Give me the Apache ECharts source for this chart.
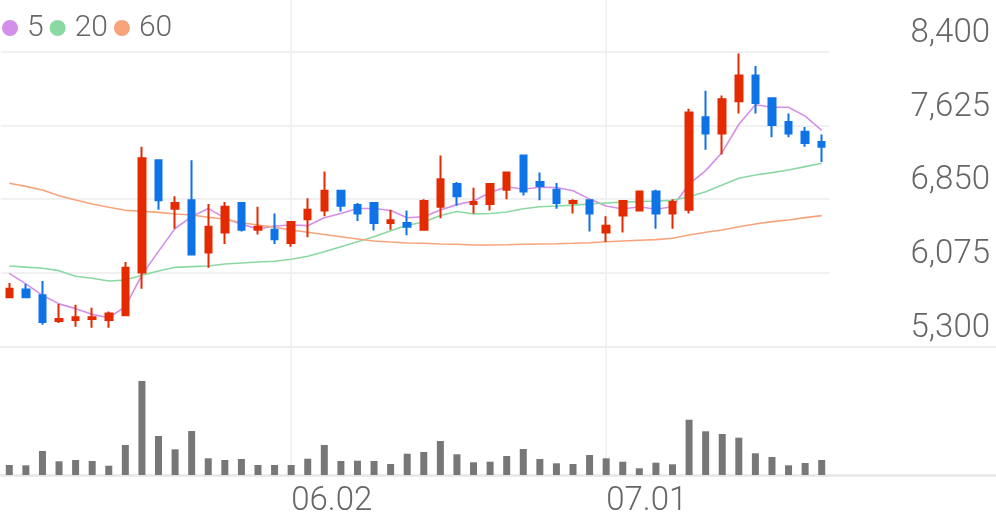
<!DOCTYPE html>
<html><head><meta charset="utf-8">
<script src="https://cdn.jsdelivr.net/npm/echarts@6/dist/echarts.min.js"></script>
<style>html,body{margin:0;padding:0;background:#fff}#c{width:996px;height:519px}</style>
</head><body><div id="c"></div>
<script>
const dates = ['05.08','05.09','05.12','05.13','05.14','05.15','05.16','05.19','05.20','05.21','05.22','05.23','05.26','05.27','05.28','05.29','05.30',
  '06.02','06.04','06.05','06.09','06.10','06.11','06.12','06.13','06.16','06.17','06.18','06.19','06.20','06.23','06.24','06.25','06.26','06.27','06.30',
  '07.01','07.02','07.03','07.04','07.07','07.08','07.09','07.10','07.11','07.14','07.15','07.16','07.17','07.18'];
const opens  = [5820,5900,5840,5570,5580,5590,5580,5630,6080,7260,6750,6840,6290,6500,6810,6530,6530,6390,6640,6730,6940,6790,6810,6600,6600,6530,6770,7010,6800,6800,6950,7310,7030,6950,6810,6840,6500,6680,6730,6930,6700,6740,7710,7540,7880,8150,7910,7660,7560,7450];
const closes = [5910,5820,5560,5590,5610,5610,5650,6130,7280,6840,6810,6270,6560,6770,6530,6560,6430,6610,6740,6940,6780,6700,6600,6630,6560,6830,7060,6880,6820,7010,7130,6930,6990,6810,6830,6700,6570,6830,6930,6700,6820,7760,7540,7900,8150,7860,7630,7540,7440,7400];
const lows   = [5820,5810,5530,5550,5510,5500,5500,5620,5910,6740,6540,6260,6130,6380,6510,6480,6380,6350,6450,6670,6720,6620,6520,6530,6470,6520,6650,6780,6700,6730,6850,6890,6840,6750,6700,6510,6400,6500,6720,6540,6540,6700,7370,7320,7750,7750,7500,7500,7400,7240];
const highs  = [5970,5960,5990,5750,5740,5710,5670,6190,7400,7260,6880,7260,6800,6820,6820,6770,6700,6620,6860,7140,6940,6810,6810,6740,6730,6850,7310,7030,6970,7020,7130,7310,7130,7020,6850,6840,6670,6840,6940,6950,6850,7800,7990,7940,8380,8250,7910,7750,7610,7530];
const ma5  = [6070,5960,5840,5750,5700,5640,5605,5720,6056,6302,6542,6667,6753,6651,6588,6537,6569,6579,6572,6655,6699,6753,6752,6731,6655,6666,6737,6793,6831,6920,6980,6954,6976,6973,6938,6851,6779,6747,6771,6744,6770,7008,7150,7344,7635,7842,7816,7816,7723,7573];
const ma20 = [6148,6136,6124,6099,6040,6020,5990,6000,6050,6096,6134,6141,6148,6169,6180,6190,6198,6219,6250,6298,6351,6403,6456,6519,6576,6610,6679,6721,6695,6700,6716,6749,6771,6778,6788,6799,6810,6819,6826,6831,6838,6876,6929,6999,7070,7104,7129,7157,7192,7227];
const ma60 = [7017,6985,6947,6887,6842,6800,6765,6733,6723,6712,6695,6684,6660,6639,6603,6579,6555,6526,6502,6479,6456,6432,6411,6400,6390,6387,6379,6376,6369,6369,6372,6376,6379,6382,6387,6393,6403,6411,6419,6425,6439,6474,6502,6526,6561,6589,6614,6631,6656,6677];
const volumes = [100000,97000,240000,137000,150000,140000,93000,300000,940000,390000,257000,440000,167000,150000,160000,100000,100000,100000,163000,300000,140000,143000,140000,110000,213000,230000,340000,207000,127000,133000,190000,260000,160000,117000,110000,200000,167000,133000,67000,123000,107000,553000,437000,410000,373000,217000,180000,97000,120000,150000];
const priceMin = 5300, priceMax = 8400, priceStep = 775;
const volumeMax = 1280000;

const UP = '#e42a00', DOWN = '#0d73e6';
const C5 = '#d48fe8', C20 = '#8bd9a2', C60 = '#f7a47b';
const FONT = 'Roboto';
const isMonthStart = (i) => i > 0 && dates[i].slice(0,2) !== dates[i-1].slice(0,2);

const candle = dates.map((d,i) => [opens[i], closes[i], lows[i], highs[i]]);

const chart = echarts.init(document.getElementById('c'), null, {renderer: 'canvas'});
const L = 1, W = 829;
chart.setOption({
  animation: false,
  backgroundColor: '#fff',
  textStyle: {fontFamily: FONT},
  legend: {
    data: ['5','20','60'], icon: 'circle', itemWidth: 16, itemHeight: 16, itemGap: 6,
    left: 2, top: 8, padding: 0,
    textStyle: {fontSize: 30, color: '#666', fontFamily: FONT, fontWeight: 300, lineHeight: 40, padding: [0, 0, 0, 4]}
  },
  grid: [
    {left: L, width: W, top: 51.7, height: 295},
    {left: L, width: W, top: 347, height: 128},
    {left: L, width: W, top: 0, height: 475},
    {left: 0, right: 0, top: 346.7, height: 128.6}
  ],
  xAxis: [
    {type: 'category', gridIndex: 0, data: dates, boundaryGap: true, axisLine: {show: false}, axisTick: {show: false}, axisLabel: {show: false}, splitLine: {show: false}},
    {type: 'category', gridIndex: 1, data: dates, boundaryGap: true, axisLine: {show: false}, axisTick: {show: false}, axisLabel: {show: false}, splitLine: {show: false}},
    {type: 'category', gridIndex: 2, data: dates, boundaryGap: true, axisLine: {show: false}, axisTick: {show: false},
      axisLabel: {show: true, interval: (i) => isMonthStart(i), align: 'left', verticalAlign: 'middle', margin: 27, fontSize: 33, color: '#666', fontFamily: FONT, fontWeight: 300},
      splitLine: {show: true, interval: (i) => isMonthStart(i), alignWithLabel: true, lineStyle: {color: '#eeeeee', width: 1.5}}},
    {type: 'value', gridIndex: 3, min: 0, max: 1, position: 'top', axisLine: {show: true, onZero: false, lineStyle: {color: '#eeeeee', width: 2}}, axisTick: {show: false}, axisLabel: {show: false}, splitLine: {show: false}},
    {type: 'value', gridIndex: 3, min: 0, max: 1, position: 'bottom', axisLine: {show: true, onZero: false, lineStyle: {color: '#e6e6e6', width: 2.5}}, axisTick: {show: false}, axisLabel: {show: false}, splitLine: {show: false}}
  ],
  yAxis: [
    {type: 'value', gridIndex: 0, min: priceMin, max: priceMax, interval: priceStep, position: 'right',
      axisLine: {show: false}, axisTick: {show: false},
      axisLabel: {align: 'right', margin: 160, verticalAlign: 'bottom', lineHeight: 36, fontSize: 33, color: '#666', fontFamily: FONT, fontWeight: 300,
        formatter: (v) => v.toLocaleString('en-US')},
      splitLine: {show: true, lineStyle: {color: '#f1f1f1', width: 2}}},
    {type: 'value', gridIndex: 1, min: 0, max: volumeMax, show: false},
    {type: 'value', gridIndex: 2, min: 0, max: 1, show: false},
    {type: 'value', gridIndex: 3, min: 0, max: 1, show: false}
  ],
  series: [
    {name: '5', type: 'line', xAxisIndex: 0, yAxisIndex: 0, data: ma5, symbol: 'none', color: C5, lineStyle: {color: C5, width: 1.6}, z: 2},
    {name: '20', type: 'line', xAxisIndex: 0, yAxisIndex: 0, data: ma20, symbol: 'none', color: C20, lineStyle: {color: C20, width: 1.6}, z: 2},
    {name: '60', type: 'line', xAxisIndex: 0, yAxisIndex: 0, data: ma60, symbol: 'none', color: C60, lineStyle: {color: C60, width: 1.6}, z: 2},
    {name: 'price', type: 'candlestick', xAxisIndex: 0, yAxisIndex: 0, data: candle, barWidth: 7, z: 3,
      itemStyle: {color: UP, color0: DOWN, borderColor: UP, borderColor0: DOWN, borderWidth: 2}},
    {name: 'volume', type: 'bar', xAxisIndex: 1, yAxisIndex: 1, data: volumes, barWidth: 7, itemStyle: {color: '#777777'}, z: 2}
  ]
});
</script></body></html>
